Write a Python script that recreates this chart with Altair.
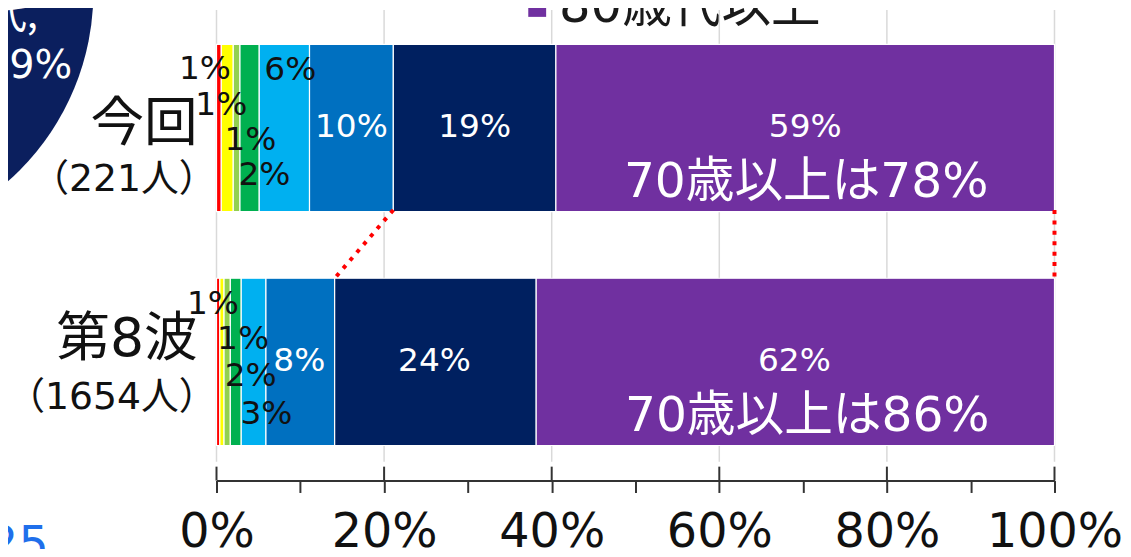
import altair as alt
import pandas as pd

# ---------------- data ----------------
categories = ["今回", "第8波"]
group_sizes = ["（221人）", "（1654人）"]
age_groups = ["20歳未満", "20歳代", "30歳代", "40歳代", "50歳代", "60歳代", "70歳代", "80歳代以上"]
share_now = [0.57, 1.43, 0.8, 2.3, 6.0, 10.0, 19.4, 59.5]
share_wave8 = [0.4, 0.5, 0.75, 1.3, 2.95, 8.2, 24.05, 61.85]
labels_now = ["1%", "1%", "1%", "2%", "6%", "10%", "19%", "59%"]
labels_wave8 = ["", "1%", "1%", "2%", "3%", "8%", "24%", "62%"]
over70_labels = ["70歳以上は78%", "70歳以上は86%"]
axis_ticks = [0, 10, 20, 30, 40, 50, 60, 70, 80, 90, 100]
major_ticks = [0, 20, 40, 60, 80, 100]
legend_label = "80歳代以上"
pie_fragment = ["代,", "9%"]
side_fragment = "25"

# ---------------- style / layout ----------------
JP = "Noto Sans CJK JP"
NUM = "DejaVu Sans, Noto Sans CJK JP"
palette = ["#FF0000", "#FFFF00", "#92D050", "#00B050", "#00B0F0", "#0070C0", "#002060", "#7030A0"]
label_colors = ["#111111"] * 5 + ["#FFFFFF"] * 3
W, H = 844, 456
# per-label offsets (px) from segment centre / bar centre
offs_now = [(-14, -59), (-6, -23), (14, 12), (15, 47), (6, -58), (0, -1), (0, -1), (0, -1)]
offs_w8 = [(0, 0), (-9, -58), (16, -23), (15, 14), (13, 53), (-1, -1), (-1, -1), (-1, -1)]
over70_offs = [(1, 55), (12, 55)]

rows = []
for cat, shares, labels in zip(categories, [share_now, share_wave8], [labels_now, labels_wave8]):
    start = 0.0
    for i, (age, v, lab) in enumerate(zip(age_groups, shares, labels)):
        rows.append(dict(cat=cat, age=age, idx=i, start=start, end=start + v,
                         mid=start + v / 2, label=lab))
        start += v
df = pd.DataFrame(rows)

# connectors: start of the 70+ block and end of the bars
s70 = df[df.age == "70歳代"].set_index("cat")["start"]
e_all = df.groupby("cat")["end"].max()
conn = pd.DataFrame({"x_now": [s70[categories[0]], e_all[categories[0]]],
                     "x_w8": [s70[categories[1]], e_all[categories[1]]]})

xscale = alt.Scale(domain=[0, 100], nice=False, zero=False)
yscale = alt.Scale(domain=categories, range=[34.7, 438.7], paddingInner=0.285, paddingOuter=0)
Y = alt.Y("cat:N", scale=yscale, sort=categories, axis=None)

one = pd.DataFrame({"a": [1]})

circle = alt.Chart(one).mark_circle(size=508 ** 2, color="#0B1F5E", opacity=1).encode(
    x=alt.value(-378), y=alt.value(-18))
pie_t1 = alt.Chart(one).mark_text(text=pie_fragment[0], font=JP, fontSize=40, color="white",
                                  align="right", baseline="alphabetic").encode(
    x=alt.value(-180), y=alt.value(18))
pie_t2 = alt.Chart(one).mark_text(text=pie_fragment[1], font=NUM, fontSize=40, color="white",
                                  align="center", baseline="middle").encode(
    x=alt.value(-177), y=alt.value(57))
side_t = alt.Chart(one).mark_text(text=side_fragment, font=NUM, fontSize=48, color="#1F6FEB",
                                  align="right", baseline="alphabetic").encode(
    x=alt.value(-169), y=alt.value(554))
leg_sq = alt.Chart(one).mark_square(size=324, color=palette[-1], opacity=1).encode(
    x=alt.value(323), y=alt.value(-2))
leg_t = alt.Chart(one).mark_text(text=legend_label, font=NUM, fontSize=50, color="#1a1a1a",
                                 align="left", baseline="alphabetic").encode(
    x=alt.value(345), y=alt.value(12))

grid = alt.Chart(pd.DataFrame({"t": major_ticks})).mark_rule(color="#D9D9D9", strokeWidth=1.5).encode(
    x=alt.X("t:Q", scale=xscale), y=alt.value(0), y2=alt.value(H - 1))
upticks = alt.Chart(pd.DataFrame({"t": major_ticks})).mark_rule(color="#333333", strokeWidth=2).encode(
    x=alt.X("t:Q", scale=xscale), y=alt.value(460), y2=alt.value(474))

bars = alt.Chart(df).mark_bar(stroke="white", strokeWidth=1.2).encode(
    x=alt.X("start:Q", scale=xscale, axis=alt.Axis(
        values=axis_ticks, grid=False, title=None, offset=18,
        domainColor="#333333", domainWidth=2, tickColor="#333333", tickWidth=2, tickSize=12,
        labelExpr="datum.value % 20 == 0 ? datum.value + '%' : ''",
        labelFont=NUM, labelFontSize=48, labelColor="#111111", labelPadding=16,
        labelFlush=False, labelOverlap=False, labelBound=False)),
    x2="end:Q",
    y=Y,
    color=alt.Color("age:N", scale=alt.Scale(domain=age_groups, range=palette), legend=None),
)

dotted = alt.Chart(conn).mark_rule(color="#FF0000", strokeWidth=4, strokeDash=[4, 6.5]).encode(
    x=alt.X("x_now:Q", scale=xscale), x2="x_w8:Q", y=alt.value(201.5), y2=alt.value(270.3))

layers = [circle, pie_t1, pie_t2, side_t, leg_sq, leg_t, grid, bars, dotted, upticks]

# segment labels
for cat, offs in zip(categories, [offs_now, offs_w8]):
    for i, (dx, dy) in enumerate(offs):
        sub = df[(df.cat == cat) & (df.idx == i)]
        if sub["label"].iloc[0] == "":
            continue
        layers.append(alt.Chart(sub).mark_text(
            font=NUM, fontSize=33, color=label_colors[i], dx=dx, dy=dy,
            align="center", baseline="middle").encode(
            x=alt.X("mid:Q", scale=xscale), y=Y, text="label:N"))

# 70歳以上 labels
for cat, txt, (dx, dy) in zip(categories, over70_labels, over70_offs):
    sub = df[(df.cat == cat) & (df.age == age_groups[-1])]
    layers.append(alt.Chart(sub).mark_text(
        text=txt, font=NUM, fontSize=49, color="white", dx=dx, dy=dy,
        align="center", baseline="middle").encode(x=alt.X("mid:Q", scale=xscale), y=Y))

# category labels
cat_rows = pd.DataFrame({"cat": categories, "n": group_sizes})
for cat, dy_main, dy_n in zip(categories, [-3, -22], [52, 36]):
    sub = cat_rows[cat_rows.cat == cat]
    layers.append(alt.Chart(sub).mark_text(
        font=NUM, fontSize=54, color="#111111", align="right", baseline="middle", dy=dy_main).encode(
        x=alt.value(-19), y=Y, text="cat:N"))
    layers.append(alt.Chart(sub).mark_text(
        font=NUM, fontSize=38, color="#111111", align="right", baseline="middle", dy=dy_n).encode(
        x=alt.value(0), y=Y, text="n:N"))

chart = alt.layer(*layers).properties(
    width=W, height=H,
    padding={"left": 210, "top": 0, "right": 69, "bottom": 85},
    autosize=alt.AutoSizeParams(type="none"),
).configure_view(stroke=None).configure_axis(grid=False)

chart.save("out.html", embed_options={"renderer": "svg", "actions": False})
